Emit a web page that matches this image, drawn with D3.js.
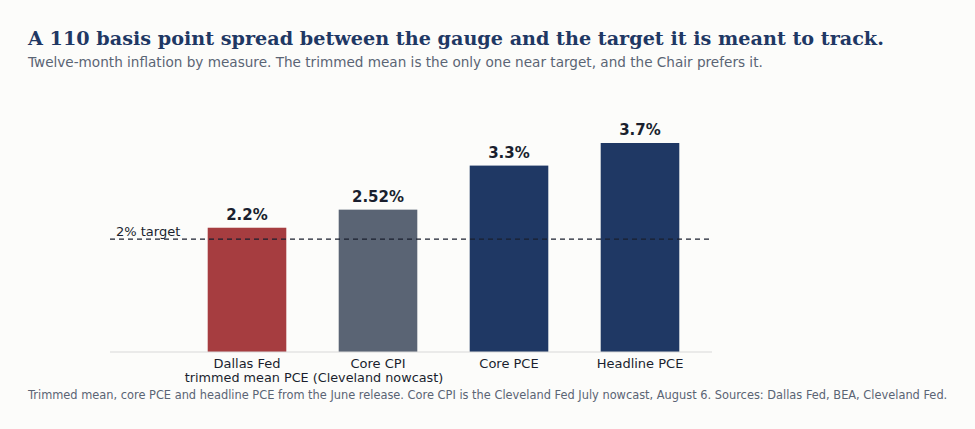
<!DOCTYPE html>
<html>
<head>
<meta charset="utf-8">
<script src="https://cdn.jsdelivr.net/npm/d3@7"></script>
<style>
	body { margin: 0; background: #fcfcfa; }
	text { font-family: "DejaVu Sans", sans-serif; }
</style>
</head>
<body>
<svg id="chart" width="975" height="429"></svg>
<script>
	var categories = ["Dallas Fed", "Core CPI", "Core PCE", "Headline PCE"];
	var values = [2.2, 2.52, 3.3, 3.7];
	var valueLabels = ["2.2%", "2.52%", "3.3%", "3.7%"];
	var colors = ["#a63d40", "#5a6474", "#1f3864", "#1f3864"];
	var target = 2;

	var svg = d3.select("#chart");
	svg.append("rect").attr("width", 975).attr("height", 429).attr("fill", "#fcfcfa");

	var x = d3.scaleBand().domain(categories).range([181.5, 705.5]).paddingInner(0.4).paddingOuter(0.2);
	var y = d3.scaleLinear().domain([0, 3.7]).range([352, 143]);

	svg.append("text").attr("x", 28).attr("y", 45)
		.style("font-family", "'DejaVu Serif', serif").style("font-weight", "bold")
		.style("font-size", "19.2px").attr("fill", "#1f3864")
		.text("A 110 basis point spread between the gauge and the target it is meant to track.");
	svg.append("text").attr("x", 28).attr("y", 67)
		.style("font-size", "13.6px").attr("fill", "#5a6474")
		.text("Twelve-month inflation by measure. The trimmed mean is the only one near target, and the Chair prefers it.");

	svg.selectAll(".bar").data(values).enter().append("rect")
		.attr("x", function(d, i) { return x(categories[i]); })
		.attr("y", function(d) { return y(d); })
		.attr("width", x.bandwidth())
		.attr("height", function(d) { return y(0) - y(d); })
		.attr("fill", function(d, i) { return colors[i]; });

	svg.selectAll(".val").data(values).enter().append("text")
		.attr("x", function(d, i) { return x(categories[i]) + x.bandwidth() / 2; })
		.attr("y", function(d) { return y(d) - 8; })
		.attr("text-anchor", "middle").style("font-weight", "bold").style("font-size", "15px")
		.attr("fill", "#1a1f2e")
		.text(function(d, i) { return valueLabels[i]; });

	svg.append("line").attr("x1", 110).attr("x2", 712).attr("y1", y(0)).attr("y2", y(0))
		.attr("stroke", "#d8d8d8");
	svg.append("line").attr("x1", 110).attr("x2", 712).attr("y1", y(target)).attr("y2", y(target))
		.attr("stroke", "#1a1f2e").attr("stroke-width", 1.3).attr("stroke-dasharray", "5,4");
	svg.append("text").attr("x", 116).attr("y", y(target) - 3)
		.style("font-size", "13px").attr("fill", "#1a1f2e").text("2% target");

	svg.selectAll(".cat").data(categories).enter().append("text")
		.attr("x", function(d) { return x(d) + x.bandwidth() / 2; })
		.attr("y", 368).attr("text-anchor", "middle").style("font-size", "13px")
		.attr("fill", "#1a1f2e").text(function(d) { return d; });
	svg.append("text").attr("x", 314).attr("y", 382).attr("text-anchor", "middle")
		.style("font-size", "12.8px").attr("fill", "#1a1f2e")
		.text("trimmed mean PCE (Cleveland nowcast)");

	svg.append("text").attr("x", 28).attr("y", 399).style("font-size", "11.4px").attr("fill", "#5a6474")
		.text("Trimmed mean, core PCE and headline PCE from the June release. Core CPI is the Cleveland Fed July nowcast, August 6. Sources: Dallas Fed, BEA, Cleveland Fed.");
</script>
</body>
</html>
